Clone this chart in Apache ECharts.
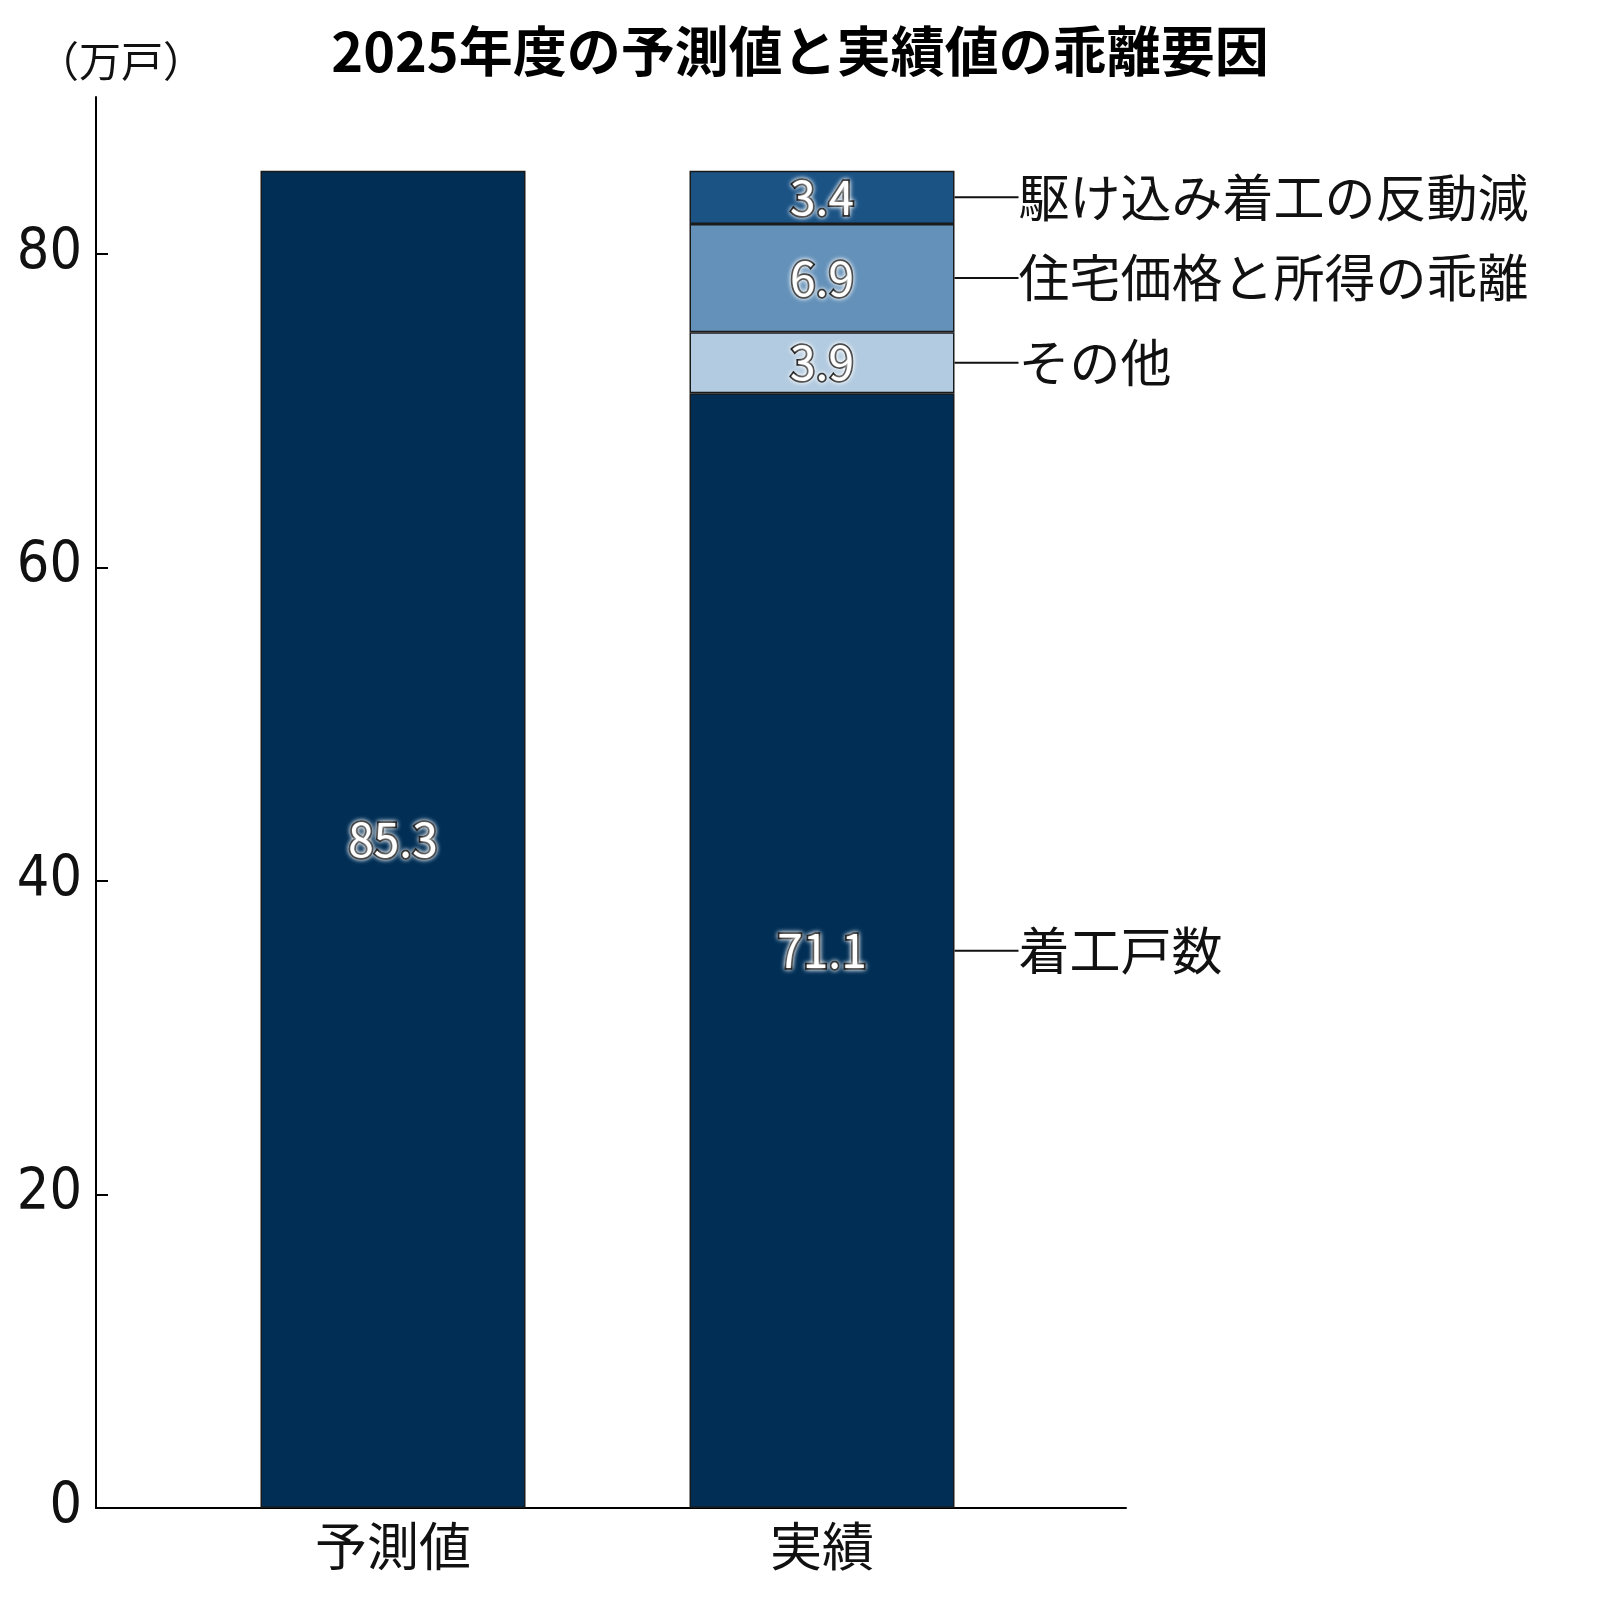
<!DOCTYPE html>
<html lang="ja">
<head>
<meta charset="utf-8">
<title>2025年度の予測値と実績値の乖離要因</title>
<script src="https://cdn.jsdelivr.net/npm/echarts@6/dist/echarts.min.js"></script>
<style>
	html, body { margin: 0; padding: 0; background: #fff; }
	#chart { width: 1600px; height: 1600px; }
</style>
</head>
<body>
<div id="chart"></div>
<script>
// カテゴリ
const categories = ["予測値", "実績"];
// 予測値（実績側は空）
const forecastValues = [85.3, null];
// 実績の内訳（下から積み上げ）
const actualNames = ["着工戸数", "その他", "住宅価格と所得の乖離", "駆け込み着工の反動減"];
const actualValues = [71.1, 3.9, 6.9, 3.4];
// y軸の目盛り
const yTicks = [0, 20, 40, 60, 80];

const actualColors = ["#002E55", "#B3CBE0", "#6491B9", "#1B5385"];
const navy = "#002E55";
const jpFont = '"Noto Sans CJK JP", sans-serif';
const BAR_W = 265;

// バー内の数値ラベル
const valueLabel = {
	show: true,
	position: "inside",
	formatter: (p) => Number(p.value).toFixed(1),
	fontFamily: jpFont,
	fontSize: 46,
	color: "#fff",
	textBorderColor: "#000",
	textBorderWidth: 3.5,
	textShadowColor: "#fff",
	textShadowBlur: 5,
};

const barStyle = (color) => ({
	color: color,
	borderColor: "#1a1a1a",
	borderWidth: 1.5,
});

// 実績だけの列を作る
const actualColumn = (v) => categories.map((c) => (c === "実績" ? v : null));

const series = [];

// 予測値の棒
series.push({
	name: "予測値",
	type: "bar",
	xAxisIndex: 0,
	yAxisIndex: 0,
	stack: "forecast",
	barWidth: BAR_W,
	barGap: "-100%",
	data: forecastValues,
	itemStyle: barStyle(navy),
	label: valueLabel,
});

// 実績の積み上げ
actualNames.forEach((name, i) => {
	series.push({
		name: name,
		type: "bar",
		xAxisIndex: 0,
		yAxisIndex: 0,
		stack: "actual",
		barWidth: BAR_W,
		barGap: "-100%",
		data: actualColumn(actualValues[i]),
		itemStyle: barStyle(actualColors[i]),
		label: valueLabel,
	});
});

// 右側の注記（透明な同じ積み上げで位置を合わせる）
actualNames.forEach((name, i) => {
	series.push({
		name: name + "_note",
		type: "bar",
		xAxisIndex: 0,
		yAxisIndex: 0,
		stack: "note",
		barWidth: BAR_W,
		barGap: "-100%",
		silent: true,
		data: actualColumn(actualValues[i]),
		itemStyle: { color: "rgba(0,0,0,0)", borderWidth: 0 },
		label: {
			show: true,
			position: "right",
			distance: 0,
			formatter: "{ln| }{t|" + name + "}",
			rich: {
				ln: { width: 64, height: 2, backgroundColor: "#111", verticalAlign: "middle" },
				t: { fontFamily: jpFont, fontSize: 51, color: "#111", verticalAlign: "middle" },
			},
		},
	});
});

const chart = echarts.init(document.getElementById("chart"), null, { renderer: "canvas" });

chart.setOption({
	backgroundColor: "#fff",
	animation: false,
	title: [
		{
			text: "2025年度の予測値と実績値の乖離要因",
			left: "center",
			top: 19,
			textStyle: { fontFamily: jpFont, fontSize: 54, fontWeight: "bold", color: "#000" },
		},
		{
			text: "（万戸）",
			left: 32,
			top: 35,
			textStyle: { fontFamily: jpFont, fontSize: 42, fontWeight: "normal", color: "#111" },
		},
	],
	grid: [
		// 棒用（カテゴリ幅を合わせる）
		{ left: 178.5, right: 563.5, top: 97, bottom: 92 },
		// 軸線用
		{ left: 96, right: 474, top: 97, bottom: 92 },
	],
	xAxis: [
		{
			type: "category",
			gridIndex: 0,
			data: categories,
			axisLine: { show: false },
			axisTick: { show: false },
			axisLabel: {
				fontFamily: jpFont,
				fontSize: 52,
				color: "#111",
				margin: 12,
			},
		},
		{
			type: "value",
			gridIndex: 1,
			min: 0,
			max: 1,
			splitLine: { show: false },
			axisLine: { show: true, onZero: false, lineStyle: { color: "#000", width: 2 } },
			axisTick: { show: false },
			axisLabel: { show: false },
		},
	],
	yAxis: [
		{
			type: "value",
			gridIndex: 0,
			min: 0,
			max: 90,
			show: false,
		},
		{
			type: "value",
			gridIndex: 1,
			min: 0,
			max: 90,
			interval: 20,
			splitLine: { show: false },
			axisLine: { show: true, onZero: false, lineStyle: { color: "#000", width: 2 } },
			axisTick: { show: true, inside: true, length: 12, customValues: yTicks, lineStyle: { color: "#000", width: 2 } },
			axisLabel: {
				customValues: yTicks,
				fontFamily: '"DejaVu Sans Condensed", "Liberation Sans Narrow", "Noto Sans", sans-serif',
				fontSize: 57,
				color: "#111",
				margin: 14,
			},
		},
	],
	series: series,
});
</script>
</body>
</html>
